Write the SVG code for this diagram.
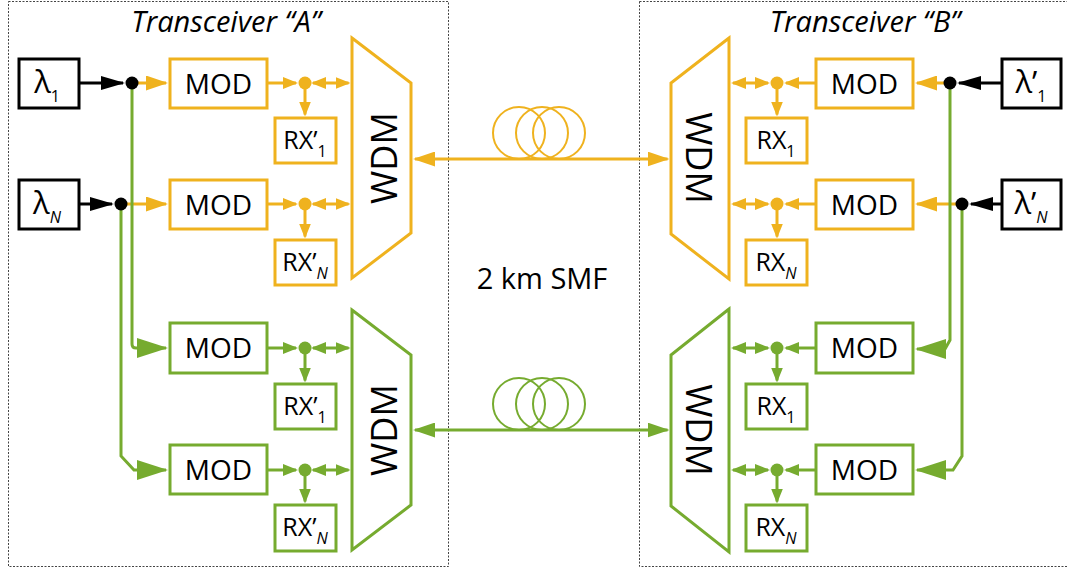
<svg xmlns="http://www.w3.org/2000/svg" width="1067" height="572" viewBox="0 0 1067 572">
<style>
text{font-family:"Open Sans","Liberation Sans",sans-serif;fill:#000}
.t{font-size:29px;font-style:italic;text-anchor:middle}
.mod{font-size:28px;text-anchor:middle}
.rx{font-size:25px;text-anchor:middle}
.lam{font-size:31px;text-anchor:middle}
.wdm{font-size:36px;text-anchor:middle}
.lbl{font-size:29px;text-anchor:middle}
.sub{font-size:16px}
.subi{font-size:16px;font-style:italic}
.by{fill:#fff;stroke:#EFB21E;stroke-width:3}
.bg{fill:#fff;stroke:#76AB2F;stroke-width:3}
.bb{fill:#fff;stroke:#000;stroke-width:3}
.ly{fill:none;stroke:#EFB21E;stroke-width:3}
.lg{fill:none;stroke:#76AB2F;stroke-width:3}
.lb{fill:none;stroke:#000;stroke-width:3}
.cy{fill:none;stroke:#EFB21E;stroke-width:2}
.cg{fill:none;stroke:#76AB2F;stroke-width:2}
.box{fill:none;stroke:#444;stroke-width:1;stroke-dasharray:2 1.5}
</style>
<defs>
<marker id="ys" viewBox="0 0 15 12" refX="13" refY="6" markerWidth="15" markerHeight="12" markerUnits="userSpaceOnUse" orient="auto-start-reverse"><path d="M0,0L15,6L0,12z" fill="#EFB21E"/></marker>
<marker id="ym" viewBox="0 0 22 15" refX="20" refY="7.5" markerWidth="22" markerHeight="15" markerUnits="userSpaceOnUse" orient="auto-start-reverse"><path d="M0,0L22,7.5L0,15z" fill="#EFB21E"/></marker>
<marker id="gs" viewBox="0 0 15 12" refX="13" refY="6" markerWidth="15" markerHeight="12" markerUnits="userSpaceOnUse" orient="auto-start-reverse"><path d="M0,0L15,6L0,12z" fill="#76AB2F"/></marker>
<marker id="gm" viewBox="0 0 22 15" refX="20" refY="7.5" markerWidth="22" markerHeight="15" markerUnits="userSpaceOnUse" orient="auto-start-reverse"><path d="M0,0L22,7.5L0,15z" fill="#76AB2F"/></marker>
<marker id="gl" viewBox="0 0 31 20" refX="29" refY="10" markerWidth="31" markerHeight="20" markerUnits="userSpaceOnUse" orient="auto-start-reverse"><path d="M0,0L31,10L0,20z" fill="#76AB2F"/></marker>
<marker id="bk" viewBox="0 0 24 14" refX="22" refY="7" markerWidth="24" markerHeight="14" markerUnits="userSpaceOnUse" orient="auto-start-reverse"><path d="M0,0L24,7L0,14z" fill="#000"/></marker>
</defs>

<g id="transceiver-A">
<rect class="box" x="8.5" y="1.5" width="440" height="565"/>
<text class="t" x="226" y="32">Transceiver “A”</text>
</g>
<g id="transceiver-B">
<rect class="box" x="639.5" y="1.5" width="430" height="565"/>
<text class="t" x="865" y="32">Transceiver “B”</text>
</g>
<g id="smf-label"><text class="lbl" x="542" y="289">2 km SMF</text></g>

<g id="connectors">
<line class="lb" x1="80" y1="83" x2="123" y2="83" marker-end="url(#bk)"/>
<line class="lb" x1="80" y1="204" x2="112" y2="204" marker-end="url(#bk)"/>
<line class="ly" x1="132" y1="83" x2="166" y2="83" marker-end="url(#ym)"/>
<line class="ly" x1="121" y1="204" x2="166" y2="204" marker-end="url(#ym)"/>
<line class="ly" x1="268" y1="83" x2="296" y2="83" marker-end="url(#ys)"/>
<line class="ly" x1="268" y1="204" x2="296" y2="204" marker-end="url(#ys)"/>
<line class="ly" x1="305" y1="83" x2="305" y2="114.5" marker-end="url(#ys)"/>
<line class="ly" x1="305" y1="204" x2="305" y2="236.5" marker-end="url(#ys)"/>
<line class="ly" x1="313" y1="83" x2="348.5" y2="83" marker-start="url(#ys)" marker-end="url(#ys)"/>
<line class="ly" x1="313" y1="204" x2="348.5" y2="204" marker-start="url(#ys)" marker-end="url(#ys)"/>
<path class="lg" d="M132,83V344Q132,348 136,348H166" marker-end="url(#gl)"/>
<path class="lg" d="M121,204V456L134,470H166" marker-end="url(#gl)"/>
<line class="lg" x1="268" y1="348" x2="296" y2="348" marker-end="url(#gs)"/>
<line class="lg" x1="268" y1="470" x2="296" y2="470" marker-end="url(#gs)"/>
<line class="lg" x1="305" y1="348" x2="305" y2="380.5" marker-end="url(#gs)"/>
<line class="lg" x1="305" y1="470" x2="305" y2="501.5" marker-end="url(#gs)"/>
<line class="lg" x1="313" y1="348" x2="348.5" y2="348" marker-start="url(#gs)" marker-end="url(#gs)"/>
<line class="lg" x1="313" y1="470" x2="348.5" y2="470" marker-start="url(#gs)" marker-end="url(#gs)"/>
<line class="ly" x1="415" y1="159" x2="667.5" y2="159" marker-start="url(#ym)" marker-end="url(#ym)"/>
<line class="lg" x1="415" y1="430" x2="667.5" y2="430" marker-start="url(#gm)" marker-end="url(#gm)"/>
<line class="lb" x1="1002" y1="83" x2="959" y2="83" marker-end="url(#bk)"/>
<line class="lb" x1="1002" y1="204" x2="971" y2="204" marker-end="url(#bk)"/>
<line class="ly" x1="950" y1="83" x2="917" y2="83" marker-end="url(#ym)"/>
<line class="ly" x1="962" y1="204" x2="917" y2="204" marker-end="url(#ym)"/>
<line class="ly" x1="815" y1="83" x2="786" y2="83" marker-end="url(#ys)"/>
<line class="ly" x1="815" y1="204" x2="786" y2="204" marker-end="url(#ys)"/>
<line class="ly" x1="777" y1="83" x2="777" y2="114.5" marker-end="url(#ys)"/>
<line class="ly" x1="777" y1="204" x2="777" y2="236.5" marker-end="url(#ys)"/>
<line class="ly" x1="768" y1="83" x2="733" y2="83" marker-start="url(#ys)" marker-end="url(#ys)"/>
<line class="ly" x1="768" y1="204" x2="733" y2="204" marker-start="url(#ys)" marker-end="url(#ys)"/>
<path class="lg" d="M950,83V340L945,349H917" marker-end="url(#gl)"/>
<path class="lg" d="M962,204V456L953,470H917" marker-end="url(#gl)"/>
<line class="lg" x1="815" y1="348" x2="786" y2="348" marker-end="url(#gs)"/>
<line class="lg" x1="815" y1="470" x2="786" y2="470" marker-end="url(#gs)"/>
<line class="lg" x1="777" y1="348" x2="777" y2="380.5" marker-end="url(#gs)"/>
<line class="lg" x1="777" y1="470" x2="777" y2="501.5" marker-end="url(#gs)"/>
<line class="lg" x1="768" y1="348" x2="733" y2="348" marker-start="url(#gs)" marker-end="url(#gs)"/>
<line class="lg" x1="768" y1="470" x2="733" y2="470" marker-start="url(#gs)" marker-end="url(#gs)"/>
<circle cx="132" cy="83" r="6.5" fill="#000"/>
<circle cx="121" cy="204" r="6.5" fill="#000"/>
<circle cx="950" cy="83" r="6.5" fill="#000"/>
<circle cx="962" cy="204" r="6.5" fill="#000"/>
<circle cx="305" cy="83" r="6.5" fill="#EFB21E"/>
<circle cx="305" cy="204" r="6.5" fill="#EFB21E"/>
<circle cx="777" cy="83" r="6.5" fill="#EFB21E"/>
<circle cx="777" cy="204" r="6.5" fill="#EFB21E"/>
<circle cx="305" cy="348" r="6.5" fill="#76AB2F"/>
<circle cx="305" cy="470" r="6.5" fill="#76AB2F"/>
<circle cx="777" cy="348" r="6.5" fill="#76AB2F"/>
<circle cx="777" cy="470" r="6.5" fill="#76AB2F"/>
</g>

<g id="fiber-coil-yellow">
<circle class="cy" cx="519" cy="133" r="26"/>
<circle class="cy" cx="542" cy="133" r="26"/>
<circle class="cy" cx="559" cy="133" r="26"/>
</g>
<g id="fiber-coil-green">
<circle class="cg" cx="519" cy="404" r="26"/>
<circle class="cg" cx="542" cy="404" r="26"/>
<circle class="cg" cx="559" cy="404" r="26"/>
</g>

<g id="lambda1"><rect class="bb" x="19" y="59" width="60" height="49"/><text class="lam" x="47" y="93">λ<tspan class="sub" dy="9">1</tspan></text></g>
<g id="lambdaN"><rect class="bb" x="19" y="180" width="60" height="49"/><text class="lam" x="47" y="214">λ<tspan class="subi" dy="9">N</tspan></text></g>

<g id="modA1y"><rect class="by" x="170" y="59" width="97" height="49"/><text class="mod" x="218.5" y="94">MOD</text></g>
<g id="modANy"><rect class="by" x="170" y="180" width="97" height="49"/><text class="mod" x="218.5" y="215">MOD</text></g>
<g id="rxA1y"><rect class="by" x="275" y="118" width="61" height="45"/><text class="rx" x="305" y="149">RX’<tspan class="sub" dy="8">1</tspan></text></g>
<g id="rxANy"><rect class="by" x="275" y="240" width="61" height="45"/><text class="rx" x="305" y="271">RX’<tspan class="subi" dy="8">N</tspan></text></g>

<g id="modA1g"><rect class="bg" x="170" y="323" width="97" height="50"/><text class="mod" x="218.5" y="358">MOD</text></g>
<g id="modANg"><rect class="bg" x="170" y="445" width="97" height="49"/><text class="mod" x="218.5" y="480">MOD</text></g>
<g id="rxA1g"><rect class="bg" x="275" y="384" width="61" height="45"/><text class="rx" x="305" y="415">RX’<tspan class="sub" dy="8">1</tspan></text></g>
<g id="rxANg"><rect class="bg" x="275" y="505" width="61" height="46"/><text class="rx" x="305" y="536">RX’<tspan class="subi" dy="8">N</tspan></text></g>

<g id="wdmAy"><polygon class="by" points="352,38 411,83 411,233 352,278"/><text class="wdm" transform="translate(397,158) rotate(-90)">WDM</text></g>
<g id="wdmAg"><polygon class="bg" points="352,310 411,355 411,505 352,550"/><text class="wdm" transform="translate(397,430) rotate(-90)">WDM</text></g>

<g id="wdmBy"><polygon class="by" points="729,38 671,83 671,234 729,279"/><text class="wdm" transform="translate(686,158) rotate(90)">WDM</text></g>
<g id="wdmBg"><polygon class="bg" points="729,309 671,355 671,506 729,552"/><text class="wdm" transform="translate(686,430) rotate(90)">WDM</text></g>

<g id="rxB1y"><rect class="by" x="746" y="118" width="61" height="45"/><text class="rx" x="776" y="149">RX<tspan class="sub" dy="8">1</tspan></text></g>
<g id="rxBNy"><rect class="by" x="746" y="240" width="61" height="45"/><text class="rx" x="776" y="271">RX<tspan class="subi" dy="8">N</tspan></text></g>
<g id="modB1y"><rect class="by" x="816" y="59" width="97" height="49"/><text class="mod" x="864.5" y="94">MOD</text></g>
<g id="modBNy"><rect class="by" x="816" y="180" width="97" height="49"/><text class="mod" x="864.5" y="215">MOD</text></g>

<g id="rxB1g"><rect class="bg" x="746" y="384" width="61" height="45"/><text class="rx" x="776" y="415">RX<tspan class="sub" dy="8">1</tspan></text></g>
<g id="rxBNg"><rect class="bg" x="746" y="505" width="61" height="46"/><text class="rx" x="776" y="536">RX<tspan class="subi" dy="8">N</tspan></text></g>
<g id="modB1g"><rect class="bg" x="816" y="323" width="97" height="50"/><text class="mod" x="864.5" y="358">MOD</text></g>
<g id="modBNg"><rect class="bg" x="816" y="445" width="97" height="49"/><text class="mod" x="864.5" y="480">MOD</text></g>

<g id="lambdaP1"><rect class="bb" x="1002" y="59" width="59" height="49"/><text class="lam" x="1031" y="93">λ’<tspan class="sub" dy="9">1</tspan></text></g>
<g id="lambdaPN"><rect class="bb" x="1002" y="180" width="59" height="49"/><text class="lam" x="1031" y="214">λ’<tspan class="subi" dy="9">N</tspan></text></g>
</svg>
